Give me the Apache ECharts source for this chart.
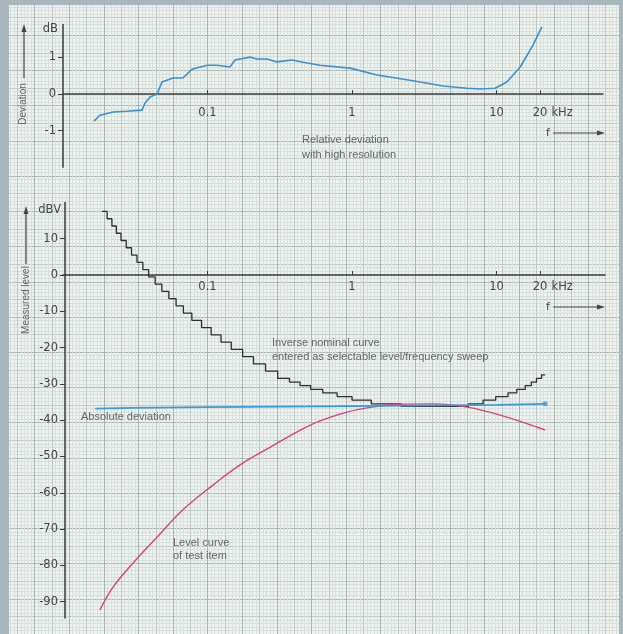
<!DOCTYPE html>
<html><head><meta charset="utf-8">
<script src="https://cdn.jsdelivr.net/npm/echarts@6/dist/echarts.min.js"></script>
<style>html,body{margin:0;padding:0;background:#a9b6bb}#c{width:623px;height:634px}</style>
</head><body><div id="c"></div>
<script>
// ---- data ----
const freqTicks = [0.1, 1, 10, 20];          // kHz
const devTicks = [-1, 0, 1];                  // dB
const levelTicks = [10, 0, -10, -20, -30, -40, -50, -60, -70, -80, -90]; // dBV

// relative deviation (top panel)
const relDevFreq = [0.0164,0.018,0.0222,0.0277,0.0352,0.0369,0.04,0.0448,0.0484,0.0577,0.0676,0.0781,0.0993,0.1164,0.143,0.155,0.197,0.22,0.258,0.303,0.384,0.458,0.601,0.97,1.49,2.52,4.27,6.25,7.69,9.77,11.8,14.6,17.9,20.6];
const relDevDb = [-0.74,-0.58,-0.49,-0.47,-0.44,-0.25,-0.08,0.0,0.33,0.44,0.44,0.68,0.79,0.79,0.74,0.93,1.01,0.96,0.96,0.88,0.93,0.87,0.79,0.71,0.52,0.38,0.22,0.16,0.14,0.16,0.33,0.74,1.34,1.84];

// inverse nominal curve (staircase sweep)
const nominalFreq = [0.0186,0.0202,0.0218,0.0234,0.0252,0.0274,0.0298,0.0325,0.0357,0.0391,0.0434,0.0483,0.054,0.0606,0.0681,0.0779,0.091,0.106,0.124,0.146,0.175,0.208,0.252,0.306,0.369,0.437,0.517,0.627,0.789,1.0,1.36,2.18,6.4,8.07,9.87,12.0,13.8,15.8,17.4,18.9,20.5,21.7];
const nominalLevel = [17.5,15.5,13.5,11.5,9.5,7.5,5.5,3.5,1.5,-0.5,-2.5,-4.5,-6.5,-8.5,-10.5,-12.5,-14.5,-16.5,-18.5,-20.5,-22.5,-24.5,-26.5,-28.5,-29.5,-30.5,-31.5,-32.5,-33.5,-34.5,-35.5,-36.2,-35.5,-34.5,-33.5,-32.5,-31.5,-30.5,-29.5,-28.5,-27.5,-27.5];

// absolute deviation
const absFreq = [0.0167,0.03,0.1,1,10,21.7];
const absLevel = [-36.8,-36.6,-36.4,-36.1,-35.8,-35.5];

// level curve of test item
const levelFreq = [0.018,0.0222,0.0305,0.0448,0.0676,0.109,0.168,0.284,0.436,0.601,0.895,1.27,2.15,3.64,6.25,10.6,21.7];
const levelDbv = [-92.3,-86.0,-79.4,-72.2,-64.7,-57.9,-52.3,-47.0,-42.8,-40.2,-37.9,-36.6,-35.6,-35.5,-36.4,-38.6,-42.7];

// ---- helpers ----
const zip = (a, b) => a.map((v, i) => [v, b[i]]);
const AX = '#3a3a3a';
const LBL = '#444';
const TXT = '#666';
const tickFont = {color: LBL, fontFamily: 'DejaVu Sans', fontSize: 11.5};
const fmtFreq = v => (v === 20 ? '{s|}{a|20}{b| kHz}' : String(v));
const freqRich = {
  s: {width: 26, fontFamily: 'DejaVu Sans', fontSize: 11.5},
  a: {color: LBL, fontFamily: 'DejaVu Sans', fontSize: 11.5},
  b: {color: LBL, fontFamily: 'DejaVu Sans', fontSize: 11.5, width: 26}
};
const MM = 3.62;

const paperAxis = (interval, color, minor) => ({
  type: 'value', gridIndex: 2, min: -100, max: 80, interval: interval,
  axisLine: {show: false}, axisTick: {show: false}, axisLabel: {show: false},
  splitLine: {show: true, lineStyle: {color: color, width: 1}},
  minorTick: {show: false, splitNumber: 5},
  minorSplitLine: {show: !!minor, lineStyle: {color: minor || '#000', width: 1}},
  z: 0
});
const paperAxisY = (interval, color, minor) => Object.assign(paperAxis(interval, color, minor), {min: -80, max: 100, inverse: true});

const chart = echarts.init(document.getElementById('c'), null, {renderer: 'canvas'});
const option = {
  animation: false,
  backgroundColor: '#eef3f0',
  grid: [
    {left: 63, top: 24.6, width: 540, height: 142.6},
    {left: 63, top: 202.4, width: 542, height: 415.6},
    {left: 352 - 100 * MM, top: 275 - 80 * MM, width: 180 * MM, height: 180 * MM}
  ],
  xAxis: [
    {gridIndex: 0, type: 'log', logBase: 10, min: 0.01, max: 54.6, offset: -73,
     axisLine: {show: true, onZero: false, lineStyle: {color: AX, width: 1.5}},
     axisTick: {show: true, inside: true, length: 4, customValues: freqTicks, lineStyle: {color: AX}},
     axisLabel: Object.assign({customValues: freqTicks, margin: 13, formatter: fmtFreq, rich: freqRich}, tickFont),
     splitLine: {show: false}, minorTick: {show: false}, z: 4},
    {gridIndex: 1, type: 'log', logBase: 10, min: 0.01, max: 56.3, offset: -343,
     axisLine: {show: true, onZero: false, lineStyle: {color: AX, width: 1.5}},
     axisTick: {show: true, inside: true, length: 4, customValues: freqTicks, lineStyle: {color: AX}},
     axisLabel: Object.assign({customValues: freqTicks, margin: 6, formatter: fmtFreq, rich: freqRich}, tickFont),
     splitLine: {show: false}, minorTick: {show: false}, z: 4},
    paperAxis(5, '#bcc8c3', '#d7e0dc'),
    paperAxis(10, '#a6b5af')
  ],
  yAxis: [
    {gridIndex: 0, type: 'value', min: -2, max: 1.9,
     axisLine: {show: true, onZero: false, lineStyle: {color: AX, width: 1.5}},
     axisTick: {show: true, length: 5, customValues: devTicks, lineStyle: {color: AX}},
     axisLabel: Object.assign({customValues: devTicks, margin: 7}, tickFont),
     splitLine: {show: false},
     name: 'dB', nameLocation: 'end', nameGap: -4,
     nameTextStyle: Object.assign({align: 'right', verticalAlign: 'middle', padding: [0, 5, 0, 0]}, tickFont),
     z: 4},
    {gridIndex: 1, type: 'value', min: -94.5, max: 20, offset: -2,
     axisLine: {show: true, onZero: false, lineStyle: {color: AX, width: 1.5}},
     axisTick: {show: true, length: 5, customValues: levelTicks, lineStyle: {color: AX}},
     axisLabel: Object.assign({customValues: levelTicks, margin: 7}, tickFont),
     splitLine: {show: false},
     name: 'dBV', nameLocation: 'end', nameGap: -8,
     nameTextStyle: Object.assign({align: 'right', verticalAlign: 'middle', padding: [0, 4, 0, 0]}, tickFont),
     z: 4},
    paperAxisY(5, '#bcc8c3', '#d7e0dc'),
    paperAxisY(10, '#a6b5af')
  ],
  series: [
    {type: 'line', xAxisIndex: 0, yAxisIndex: 0, data: zip(relDevFreq, relDevDb),
     symbol: 'none', lineStyle: {color: '#3b90d0', width: 1.6}, z: 5},
    {type: 'line', xAxisIndex: 1, yAxisIndex: 1, step: 'end', data: zip(nominalFreq, nominalLevel),
     symbol: 'none', lineStyle: {color: '#2e2e2e', width: 1.3}, z: 5},
    {type: 'line', xAxisIndex: 1, yAxisIndex: 1, data: zip(absFreq, absLevel),
     symbol: 'none', lineStyle: {color: '#3b9ad8', width: 1.8}, z: 6},
    {type: 'scatter', xAxisIndex: 1, yAxisIndex: 1,
     data: [[absFreq[absFreq.length - 1], absLevel[absLevel.length - 1]]],
     symbol: 'circle', symbolSize: 5, itemStyle: {color: '#3b9ad8'}, z: 6},
    {type: 'line', xAxisIndex: 1, yAxisIndex: 1, data: zip(levelFreq, levelDbv), smooth: 0.4,
     symbol: 'none', lineStyle: {color: '#d8427f', width: 1.4}, z: 5}
  ],
  graphic: [
    // scanned frame
    {type: 'rect', shape: {x: 0, y: 0, width: 9, height: 634}, style: {fill: '#a9b6bb'}, z: 100},
    {type: 'rect', shape: {x: 0, y: 0, width: 623, height: 5}, style: {fill: '#a9b6bb'}, z: 100},
    {type: 'rect', shape: {x: 619, y: 0, width: 4, height: 634}, style: {fill: '#a9b6bb'}, z: 100},
    // vertical axis titles with arrows
    {type: 'line', shape: {x1: 24, y1: 78, x2: 24, y2: 31}, style: {stroke: '#444', lineWidth: 1.2}, z: 50},
    {type: 'polygon', shape: {points: [[24, 24], [21.5, 32], [26.5, 32]]}, style: {fill: '#444'}, z: 50},
    {type: 'text', x: 23, y: 104, rotation: Math.PI / 2,
     style: {text: 'Deviation', fill: TXT, font: '10px "Liberation Sans"', align: 'center', verticalAlign: 'middle'}, z: 50},
    {type: 'line', shape: {x1: 26, y1: 264, x2: 26, y2: 213}, style: {stroke: '#444', lineWidth: 1.2}, z: 50},
    {type: 'polygon', shape: {points: [[26, 206], [23.5, 214], [28.5, 214]]}, style: {fill: '#444'}, z: 50},
    {type: 'text', x: 26, y: 300, rotation: Math.PI / 2,
     style: {text: 'Measured level', fill: TXT, font: '10px "Liberation Sans"', align: 'center', verticalAlign: 'middle'}, z: 50},
    // f arrows
    {type: 'text', x: 548, y: 133, style: {text: 'f', fill: LBL, font: '11px "DejaVu Sans"', align: 'center', verticalAlign: 'middle'}, z: 50},
    {type: 'line', shape: {x1: 553, y1: 133, x2: 598, y2: 133}, style: {stroke: '#444', lineWidth: 1.2}, z: 50},
    {type: 'polygon', shape: {points: [[605, 133], [597, 130.5], [597, 135.5]]}, style: {fill: '#444'}, z: 50},
    {type: 'text', x: 548, y: 307, style: {text: 'f', fill: LBL, font: '11px "DejaVu Sans"', align: 'center', verticalAlign: 'middle'}, z: 50},
    {type: 'line', shape: {x1: 553, y1: 307, x2: 598, y2: 307}, style: {stroke: '#444', lineWidth: 1.2}, z: 50},
    {type: 'polygon', shape: {points: [[605, 307], [597, 304.5], [597, 309.5]]}, style: {fill: '#444'}, z: 50},
    // annotations
    {type: 'text', x: 302, y: 140, style: {text: 'Relative deviation', fill: TXT, font: '11px "Liberation Sans"', verticalAlign: 'middle'}, z: 50},
    {type: 'text', x: 302, y: 155, style: {text: 'with high resolution', fill: TXT, font: '11px "Liberation Sans"', verticalAlign: 'middle'}, z: 50},
    {type: 'text', x: 272, y: 343, style: {text: 'Inverse nominal curve', fill: TXT, font: '11px "Liberation Sans"', verticalAlign: 'middle'}, z: 50},
    {type: 'text', x: 272, y: 357, style: {text: 'entered as selectable level/frequency sweep', fill: TXT, font: '11px "Liberation Sans"', verticalAlign: 'middle'}, z: 50},
    {type: 'text', x: 81, y: 417, style: {text: 'Absolute deviation', fill: TXT, font: '11px "Liberation Sans"', verticalAlign: 'middle'}, z: 50},
    {type: 'text', x: 173, y: 543, style: {text: 'Level curve', fill: TXT, font: '11px "Liberation Sans"', verticalAlign: 'middle'}, z: 50},
    {type: 'text', x: 173, y: 556, style: {text: 'of test item', fill: TXT, font: '11px "Liberation Sans"', verticalAlign: 'middle'}, z: 50}
  ]
};
chart.setOption(option);
</script>
</body></html>
